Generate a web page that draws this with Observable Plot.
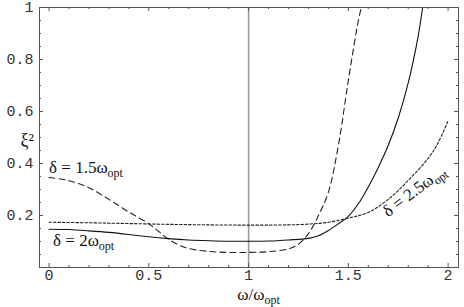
<!DOCTYPE html>
<html><head><meta charset="utf-8">
<script src="https://cdn.jsdelivr.net/npm/d3@7"></script>
<script src="https://cdn.jsdelivr.net/npm/@observablehq/plot@0.6"></script>
<style>body{margin:0;background:#fff} svg{display:block}</style>
</head><body><div id="chart"></div>
<script>
// δ = 1.5 ω_opt (dashed)
const dashX = [0, 0.1, 0.2, 0.3, 0.4, 0.5, 0.55, 0.6, 0.65, 0.7, 0.8, 0.9, 1.0, 1.1, 1.2, 1.25, 1.3, 1.35, 1.4, 1.45, 1.5, 1.55, 1.565];
const dashY = [0.346, 0.334, 0.307, 0.262, 0.213, 0.168, 0.138, 0.108, 0.087, 0.073, 0.062, 0.058, 0.058, 0.061, 0.072, 0.09, 0.13, 0.20, 0.29, 0.47, 0.72, 0.95, 1.0];
// δ = 2 ω_opt (solid)
const solidX = [0, 0.1, 0.2, 0.3, 0.4, 0.5, 0.6, 0.7, 0.8, 0.9, 1.0, 1.1, 1.2, 1.3, 1.35, 1.4, 1.45, 1.5, 1.55, 1.6, 1.65, 1.7, 1.75, 1.8, 1.85, 1.872];
const solidY = [0.147, 0.146, 0.141, 0.135, 0.127, 0.118, 0.111, 0.106, 0.103, 0.101, 0.101, 0.102, 0.106, 0.112, 0.122, 0.142, 0.168, 0.197, 0.245, 0.31, 0.385, 0.47, 0.575, 0.71, 0.89, 1.0];
// δ = 2.5 ω_opt (dotted)
const dotX = [0, 0.2, 0.4, 0.6, 0.8, 1.0, 1.2, 1.3, 1.4, 1.5, 1.6, 1.7, 1.8, 1.9, 1.95, 2.0];
const dotY = [0.174, 0.172, 0.169, 0.166, 0.164, 0.163, 0.164, 0.167, 0.174, 0.19, 0.212, 0.262, 0.335, 0.42, 0.48, 0.565];

const xMajor = [0, 0.5, 1, 1.5, 2];
const xMinor = [0.1, 0.2, 0.3, 0.4, 0.6, 0.7, 0.8, 0.9, 1.1, 1.2, 1.3, 1.4, 1.6, 1.7, 1.8, 1.9];
const yMajor = [0.2, 0.4, 0.6, 0.8, 1];
const yMinor = [0.05, 0.1, 0.15, 0.25, 0.3, 0.35, 0.45, 0.5, 0.55, 0.65, 0.7, 0.75, 0.85, 0.9, 0.95];

const labelText = ["δ = 1.5ω_opt", "δ = 2ω_opt"];
const labelX = [0, 0.02];
const labelY = [0.385, 0.103];
const rotLabelText = ["δ = 2.5ω_opt"];
const rotLabelX = [1.83];
const rotLabelY = [0.295];
const rotLabelAngle = [-37];
const xTitle = "ω/ω_opt";
const yTitle = "ξ²";

const zip = (xs, ys) => xs.map((x, i) => ({x, y: ys[i]}));
const dash = zip(dashX, dashY), solid = zip(solidX, solidY), dot = zip(dotX, dotY);
const labels = labelText.map((t, i) => ({t, x: labelX[i], y: labelY[i]}));
const rotLabels = rotLabelText.map((t, i) => ({t, x: rotLabelX[i], y: rotLabelY[i], r: rotLabelAngle[i]}));

const fmt = d => String(d);
const mono = "Liberation Mono, Courier New, monospace";
const serif = "Liberation Serif, Times New Roman, serif";
const fc = "#555";

// inward frame ticks (lengths in data units: ~2px minor, ~4px major)
const xDom = [-0.048, 2.052], yDom = [0, 1];
const tyMin = 2 / 260, tyMaj = 4 / 260, txMin = 2 / 200, txMaj = 4 / 200;
const tickMarks = [
  Plot.ruleX(xMinor, {x: d => d, y1: 0, y2: tyMin, stroke: fc}),
  Plot.ruleX(xMajor, {x: d => d, y1: 0, y2: tyMaj, stroke: fc}),
  Plot.ruleX(xMinor, {x: d => d, y1: 1, y2: 1 - tyMin, stroke: fc}),
  Plot.ruleX(xMajor, {x: d => d, y1: 1, y2: 1 - tyMaj, stroke: fc}),
  Plot.ruleY(yMinor, {y: d => d, x1: xDom[0], x2: xDom[0] + txMin, stroke: fc}),
  Plot.ruleY(yMajor, {y: d => d, x1: xDom[0], x2: xDom[0] + txMaj, stroke: fc}),
  Plot.ruleY(yMinor, {y: d => d, x1: xDom[1], x2: xDom[1] - txMin, stroke: fc}),
  Plot.ruleY(yMajor, {y: d => d, x1: xDom[1], x2: xDom[1] - txMaj, stroke: fc})
];

const plot = Plot.plot({
  width: 464, height: 307,
  marginTop: 7, marginRight: 6, marginBottom: 40, marginLeft: 39,
  x: {domain: xDom},
  y: {domain: yDom},
  style: {background: "#fff", color: "#333"},
  marks: [
    Plot.ruleX([1], {stroke: "#9a9a9a", strokeWidth: 1.6}),
    Plot.line(dash, {x: "x", y: "y", curve: "catmull-rom", stroke: "#222", strokeWidth: 1.1, strokeDasharray: "6,4", clip: true}),
    Plot.line(solid, {x: "x", y: "y", curve: "catmull-rom", stroke: "#111", strokeWidth: 1.1, clip: true}),
    Plot.line(dot, {x: "x", y: "y", curve: "catmull-rom", stroke: "#222", strokeWidth: 1.1, strokeDasharray: "2.5,2", clip: true}),
    Plot.frame({stroke: fc}),
    ...tickMarks,
    Plot.axisX(xMajor, {anchor: "bottom", tickSize: 0, tickPadding: 2, tickFormat: fmt, fontFamily: mono, fontSize: 15, label: null}),
    Plot.axisY(yMajor, {anchor: "left", tickSize: 0, tickPadding: 6, tickFormat: fmt, fontFamily: mono, fontSize: 15, label: null}),
    Plot.text(labels, {x: "x", y: "y", text: "t", textAnchor: "start", fontFamily: serif, fontSize: 17, fill: "#111"}),
    Plot.text(rotLabels, {x: "x", y: "y", text: "t", rotate: "r", textAnchor: "middle", fontFamily: serif, fontSize: 17, fill: "#111"}),
    Plot.text([{t: xTitle, x: 1.05}], {x: "x", text: "t", frameAnchor: "bottom", dy: 32, fontFamily: serif, fontSize: 17, fill: "#111"}),
    Plot.text([{t: yTitle, y: 0.49}], {y: "y", text: "t", frameAnchor: "left", dx: -19, fontFamily: serif, fontSize: 18, fill: "#111"})
  ]
});

// subscripts: "_opt" -> lowered smaller tspan
plot.querySelectorAll("text").forEach(el => {
  const tsp = el.querySelectorAll("tspan");
  const targets = tsp.length ? Array.from(tsp) : [el];
  targets.forEach(node => {
    const s = node.textContent;
    const i = s.indexOf("_");
    if (i < 0) return;
    node.textContent = s.slice(0, i);
    const sub = document.createElementNS("http://www.w3.org/2000/svg", "tspan");
    sub.setAttribute("font-size", "12");
    sub.setAttribute("dy", "4");
    sub.textContent = s.slice(i + 1);
    node.appendChild(sub);
  });
});

document.getElementById("chart").appendChild(plot);
</script>
</body></html>
